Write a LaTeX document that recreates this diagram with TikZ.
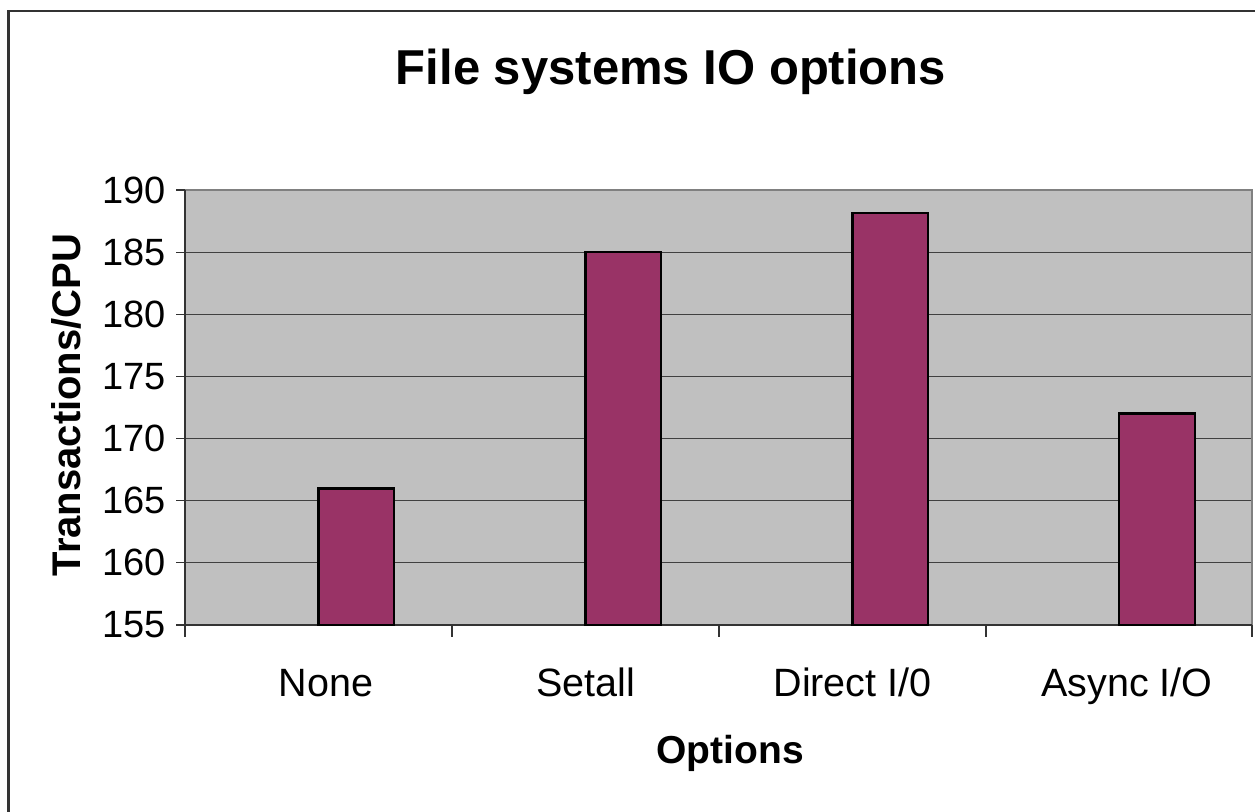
\documentclass[tikz,border=0pt]{standalone}
\usepackage{fontspec}
\setmainfont{Liberation Sans}
\definecolor{plotgrey}{HTML}{C0C0C0}
\definecolor{barplum}{HTML}{993366}
\definecolor{framegrey}{HTML}{333333}
\tikzset{
	bar/.style={draw=black, line width=2.5pt, fill=barplum},
	gridline/.style={draw=black!75, line width=1.2pt},
	ticklabel/.style={anchor=east, inner sep=0pt, font=\fontsize{38}{42}\selectfont},
	catlabel/.style={anchor=base, inner sep=0pt, font=\fontsize{39.5}{44}\selectfont}
}

\begin{document}
\begin{tikzpicture}[x=1pt, y=-1pt]
			%%%%% START %%%%%
			\useasboundingbox (0, 0) rectangle (1255, 811);
			
			% outer frame (cut off on the right and at the bottom)
			\draw[framegrey, line width=2.2pt] (8.5, 812) -- (8.5, 11) -- (1256, 11);
			
			% plot area
			\fill[plotgrey] (185, 190) rectangle (1252, 625);
			\draw[gridline] (185, 252.14) -- (1252, 252.14);
			\draw[gridline] (185, 314.29) -- (1252, 314.29);
			\draw[gridline] (185, 376.43) -- (1252, 376.43);
			\draw[gridline] (185, 438.57) -- (1252, 438.57);
			\draw[gridline] (185, 500.71) -- (1252, 500.71);
			\draw[gridline] (185, 562.86) -- (1252, 562.86);
			\draw[black!50, line width=1.5pt] (185, 190) -- (1252, 190) -- (1252, 625);
			
			% axes
			\draw[black!80, line width=1.2pt] (185, 190) -- (185, 625) -- (1252, 625);
			\foreach \yy in {190, 252.14, 314.29, 376.43, 438.57, 500.71, 562.86, 625}
				\draw[black!80, line width=1.2pt] (176, \yy) -- (185, \yy);
			\foreach \xx in {185, 452, 719, 986, 1252}
				\draw[black!80, line width=1.2pt] (\xx, 625) -- (\xx, 637);
			
			% bars
			\draw[bar] (318.5, 625) rectangle (394, 488.29);
			\draw[bar] (585.5, 625) rectangle (661, 252.14);
			\draw[bar] (852.5, 625) rectangle (928, 213);
			\draw[bar] (1119, 625) rectangle (1195, 413.71);
			
			% tick labels
			\node[ticklabel] (t190) at (166, 190) {190};
			\node[ticklabel] (t185) at (166, 252.14) {185};
			\node[ticklabel] (t180) at (166, 314.29) {180};
			\node[ticklabel] (t175) at (166, 376.43) {175};
			\node[ticklabel] (t170) at (166, 438.57) {170};
			\node[ticklabel] (t165) at (166, 500.71) {165};
			\node[ticklabel] (t160) at (166, 562.86) {160};
			\node[ticklabel] (t155) at (166, 625) {155};
			
			\node[catlabel] (none) at (326, 696) {None};
			\node[catlabel] (setall) at (585.5, 696) {Setall};
			\node[catlabel] (direct) at (852.5, 696) {Direct I/0};
			\node[catlabel] (async) at (1127, 696) {Async I/O};
			
			% titles
			\node[anchor=base, inner sep=0pt, font=\fontsize{49}{54}\selectfont\bfseries] (title) at (671, 84) {File systems IO options};
			\node[anchor=base, inner sep=0pt, font=\fontsize{39}{44}\selectfont\bfseries] (xtitle) at (730, 763) {Options};
			\node[anchor=base, rotate=90, inner sep=0pt, font=\fontsize{40}{44}\selectfont\bfseries] (ytitle) at (80, 405) {Transactions/CPU};
			
			%%%%% END %%%%%
\end{tikzpicture}
\end{document}
